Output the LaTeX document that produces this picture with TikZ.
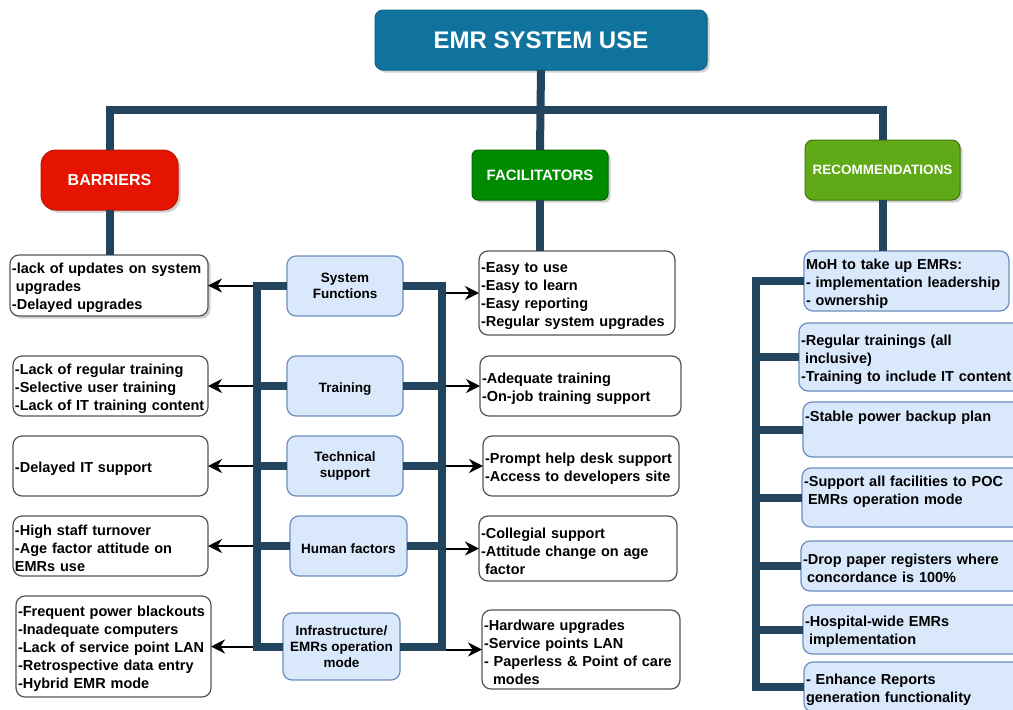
\documentclass[tikz,border=0pt]{standalone}
\usepackage{fontspec}
\setmainfont{Liberation Sans}
\usetikzlibrary{arrows.meta,shadows}

\definecolor{titleblue}{HTML}{10739E}
\definecolor{barred}{HTML}{E51400}
\definecolor{facgreen}{HTML}{008A00}
\definecolor{reclime}{HTML}{60A917}
\definecolor{navy}{HTML}{23445D}
\definecolor{paleblue}{HTML}{DAE8FC}
\definecolor{paleedge}{HTML}{6C8EBF}
\definecolor{boxedge}{HTML}{555555}

% small indent for continuation lines
\newcommand\indsp{\hspace*{4pt}}

\begin{document}
\begin{tikzpicture}[x=1pt,y=-1pt,
  every node/.style={outer sep=0pt},
  dropsh/.style={drop shadow={shadow xshift=2.5pt,shadow yshift=-2.5pt,opacity=0.3,fill=black!60}},
  hdr/.style={rounded corners=#1, text=white, line width=1pt, inner sep=2pt, align=center},
  txt/.style={font=\fontsize{14.5pt}{18pt}\selectfont\bfseries, align=left, inner xsep=2pt, inner ysep=0pt,
              execute at begin node={\rule{0pt}{15.5pt}}},
  wbox/.style={txt, draw=boxedge, fill=white, line width=1.2pt, rounded corners=9pt},
  pbox/.style={draw=paleedge, fill=paleblue, line width=1.2pt, rounded corners=9pt},
  ptxt/.style={pbox, txt},
  midbox/.style={pbox, font=\fontsize{13.5pt}{16pt}\selectfont\bfseries, align=center, inner sep=1pt,
                 execute at begin node={\rule{0pt}{16pt}}},
  trunk/.style={draw=navy, line width=8pt},
  arr/.style={draw=black, line width=2pt, -{Stealth[length=14pt,width=14pt,inset=4.5pt]}},
]
\useasboundingbox (0,0) rectangle (1013,710);
\fill[white] (0,0) rectangle (1013,710);
\clip (0,0) rectangle (1013,710);

% ---- headers ----
\node[hdr=8pt, fill=titleblue, draw=titleblue!85!black, dropsh, minimum width=332pt, minimum height=60pt,
      font=\fontsize{24pt}{28pt}\selectfont\bfseries] (title) at (541,40) {EMR SYSTEM USE};
\node[hdr=15pt, fill=barred, draw=barred!85!black, dropsh, minimum width=137pt, minimum height=60pt,
      font=\fontsize{16pt}{19pt}\selectfont\bfseries] (bar) at (109.5,180) {BARRIERS};
\node[hdr=6pt, fill=facgreen, draw=facgreen!75!black, dropsh, minimum width=136pt, minimum height=50pt,
      font=\fontsize{15pt}{18pt}\selectfont\bfseries] (fac) at (540,175) {FACILITATORS};
\node[hdr=8pt, fill=reclime, draw=reclime!70!black, dropsh, minimum width=155pt, minimum height=60pt,
      font=\fontsize{13.5pt}{16pt}\selectfont\bfseries] (rec) at (882.5,170) {RECOMMENDATIONS};

% ---- barriers ----
\node[wbox, dropsh, minimum width=198pt, minimum height=61pt, text width=194pt] (b1) at (109,285.5)
  {-lack of updates on system\\\indsp upgrades\\-Delayed upgrades};
\node[wbox, minimum width=195pt, minimum height=60pt, text width=191pt] (b2) at (110.5,386)
  {-Lack of regular training\\-Selective user training\\-Lack of IT training content};
\node[wbox, minimum width=195pt, minimum height=60pt, text width=191pt] (b3) at (110.5,466)
  {-Delayed IT support};
\node[wbox, minimum width=195pt, minimum height=60pt, text width=191pt] (b4) at (110.5,546)
  {-High staff turnover\\-Age factor attitude on\\EMRs use};
\node[wbox, minimum width=195pt, minimum height=101pt, text width=191pt] (b5) at (113.5,646.5)
  {-Frequent power blackouts\\-Inadequate computers\\-Lack of service point LAN\\-Retrospective data entry\\-Hybrid EMR mode};

% ---- themes ----
\node[midbox, minimum width=116pt, minimum height=60pt] (sf) at (345,286) {System\\Functions};
\node[midbox, minimum width=116pt, minimum height=60pt] (tr) at (345,386) {Training};
\node[midbox, minimum width=116pt, minimum height=60pt] (ts) at (345,466) {Technical\\support};
\node[midbox, minimum width=117pt, minimum height=60pt] (hf) at (348.5,546) {Human factors};
\node[midbox, minimum width=117pt, minimum height=67pt] (inf) at (341.5,646.5) {Infrastructure/\\EMRs operation\\mode};

% ---- facilitators ----
\node[wbox, minimum width=196pt, minimum height=84pt, text width=192pt] (f1) at (577,293)
  {-Easy to use\\-Easy to learn\\-Easy reporting\\-Regular system upgrades};
\node[wbox, minimum width=201pt, minimum height=60pt, text width=197pt] (f2) at (580.5,386)
  {-Adequate training\\-On-job training support};
\node[wbox, minimum width=196pt, minimum height=60pt, text width=192pt] (f3) at (581,466)
  {-Prompt help desk support\\-Access to developers site};
\node[wbox, minimum width=198pt, minimum height=65pt, text width=194pt] (f4) at (578,548.5)
  {-Collegial support\\-Attitude change on age\\\indsp factor};
\node[wbox, minimum width=198pt, minimum height=79pt, text width=194pt] (f5) at (581,649.5)
  {-Hardware upgrades\\-Service points LAN\\- Paperless \& Point of care\\\hspace*{9pt}modes};

% ---- recommendations ----
\node[ptxt, minimum width=205pt, minimum height=60pt, text width=201pt] (r1) at (906.5,281)
  {MoH to take up EMRs:\\- implementation leadership\\- ownership};
\node[ptxt, minimum width=226pt, minimum height=68pt, text width=222pt] (r2) at (912,357)
  {-Regular trainings (all\\\indsp inclusive)\\-Training to include IT content};
\node[pbox, minimum width=222pt, minimum height=55pt] (r3) at (914,429.5) {};
\node[txt, anchor=north west, text width=218pt] (r3t) at (803,406.4) {-Stable power backup plan};
\node[pbox, minimum width=223pt, minimum height=59pt] (r4) at (913.5,497.5) {};
\node[txt, anchor=north west, text width=219pt] (r4t) at (802,471.4)
  {-Support all facilities to POC\\\indsp EMRs operation mode};
\node[ptxt, minimum width=224pt, minimum height=50pt, text width=220pt] (r5) at (913,566)
  {-Drop paper registers where\\\indsp concordance is 100\%};
\node[ptxt, minimum width=222pt, minimum height=49pt, text width=218pt] (r6) at (914,629.5)
  {-Hospital-wide EMRs\\\indsp implementation};
\node[ptxt, minimum width=221pt, minimum height=50pt, text width=217pt] (r7) at (914.5,687)
  {- Enhance Reports\\generation functionality};

% ---- tree trunk ----
\coordinate (hub) at (540,110);
\draw[trunk] (bar.north) |- (hub) -| (rec.north);
\draw[trunk] (title.south) -- (fac.north);
\draw[trunk] (bar.south) -- (bar.south |- b1.north);
\draw[trunk] (fac.south) -- (fac.south |- f1.north);
\draw[trunk] (rec.south) -- (rec.south |- r1.north);

% ---- bracket around the themes ----
\coordinate (L) at (257,0);
\coordinate (R) at (442,0);
\draw[trunk] (sf.west) -- (sf.west -| L) -- (inf.west -| L) -- (inf.west);
\draw[trunk] (sf.east) -- (sf.east -| R) -- (inf.east -| R) -- (inf.east);
\foreach \n in {tr,ts,hf}{
  \draw[trunk] (\n.west -| L) -- (\n.west);
  \draw[trunk] (\n.east) -- (\n.east -| R);
}

% ---- arrows to barriers and facilitators ----
\coordinate (Lo) at (253,0);
\coordinate (Ro) at (446,0);
\foreach \b in {b1,b2,b3,b4,b5}{
  \draw[arr] (Lo |- \b.east) -- (\b.east);
}
\foreach \f in {f1,f2,f3,f4,f5}{
  \draw[arr] (Ro |- \f.west) -- (\f.west);
}

% ---- recommendation spine ----
\coordinate (V) at (756,0);
\draw[trunk] (r1.west) -- (r1.west -| V) -- (r7.west -| V) -- (r7.west);
\foreach \r in {r2,r3,r4,r5,r6}{
  \draw[trunk] (\r.west -| V) -- (\r.west);
}
\end{tikzpicture}
\end{document}
